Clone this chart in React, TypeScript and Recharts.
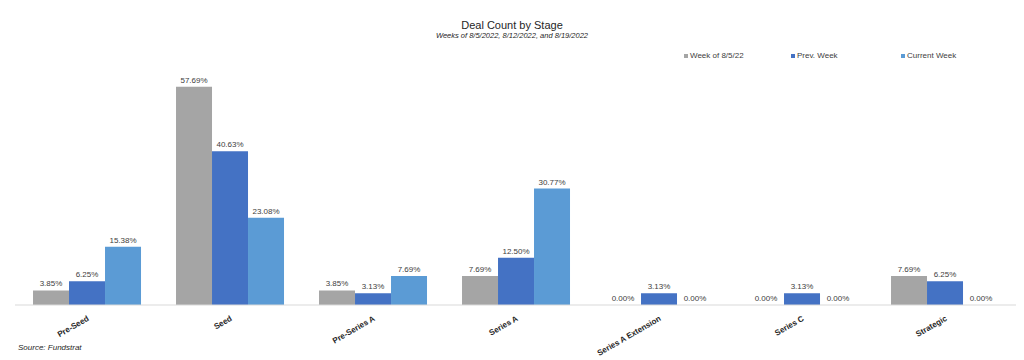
import { BarChart, Bar, XAxis, YAxis, LabelList } from 'recharts';

const stages = ['Pre-Seed', 'Seed', 'Pre-Series A', 'Series A', 'Series A Extension', 'Series C', 'Strategic'];
const weekOf85 = [3.85, 57.69, 3.85, 7.69, 0, 0, 7.69];
const prevWeek = [6.25, 40.63, 3.13, 12.5, 3.13, 3.13, 6.25];
const currentWeek = [15.38, 23.08, 7.69, 30.77, 0, 0, 0];

const seriesNames = ['Week of 8/5/22', 'Prev. Week', 'Current Week'];
const seriesColors = ['#A5A5A5', '#4472C4', '#5B9BD5'];

const data = stages.map((stage, i) => ({
  stage,
  w1: weekOf85[i],
  w2: prevWeek[i],
  w3: currentWeek[i],
}));

const font = '"Liberation Sans", Arial, sans-serif';

const StageTick = (props: any) => {
  const { x, y, payload } = props;
  return (
    <g transform={`translate(${x + 3},${y + 7})`}>
      <text
        x={0}
        y={0}
        textAnchor="end"
        transform="rotate(-30)"
        fontSize={8}
        fontWeight="bold"
        fill="#262626"
        fontFamily={font}
      >
        {payload.value}
      </text>
    </g>
  );
};

const ValueLabel = (props: any) => {
  const { x, y, width, height, value } = props;
  const top = Math.min(y, y + height);
  return (
    <text x={x + width / 2} y={top - 4} textAnchor="middle" fontSize={8} fill="#404040" fontFamily={font}>
      {`${Number(value).toFixed(2)}%`}
    </text>
  );
};

const App = () => {
  return (
    <div style={{ position: 'absolute', left: 0, top: 0, width: 1024, height: 360, background: '#fff', fontFamily: font }}>
      <div style={{ position: 'absolute', top: 19, width: 1024, textAlign: 'center', fontSize: 11, color: '#262626' }}>
        Deal Count by Stage
      </div>
      <div style={{ position: 'absolute', top: 31, width: 1024, textAlign: 'center', fontSize: 7.5, fontStyle: 'italic', color: '#262626' }}>
        Weeks of 8/5/2022, 8/12/2022, and 8/19/2022
      </div>
      <div style={{ position: 'absolute', top: 51, left: 684, display: 'flex', fontSize: 8, color: '#404040' }}>
        {seriesNames.map((name, i) => (
          <div key={name} style={{ width: i === 1 ? 110 : 107, display: 'flex', alignItems: 'center' }}>
            <span style={{ display: 'inline-block', width: 4, height: 4, background: seriesColors[i], marginRight: 2 }} />
            {name}
          </div>
        ))}
      </div>
      <BarChart
        width={1024}
        height={360}
        data={data}
        margin={{ top: 78, right: 8, bottom: 25, left: 15 }}
        barGap={0}
        barCategoryGap="12.6%"
      >
        <XAxis
          dataKey="stage"
          height={30}
          axisLine={{ stroke: '#D9D9D9' }}
          tickLine={false}
          tick={<StageTick />}
          interval={0}
        />
        <YAxis hide domain={[0, 60]} />
        <Bar dataKey="w1" name={seriesNames[0]} fill={seriesColors[0]} minPointSize={0.01} isAnimationActive={false}>
          <LabelList dataKey="w1" content={<ValueLabel />} />
        </Bar>
        <Bar dataKey="w2" name={seriesNames[1]} fill={seriesColors[1]} minPointSize={0.01} isAnimationActive={false}>
          <LabelList dataKey="w2" content={<ValueLabel />} />
        </Bar>
        <Bar dataKey="w3" name={seriesNames[2]} fill={seriesColors[2]} minPointSize={0.01} isAnimationActive={false}>
          <LabelList dataKey="w3" content={<ValueLabel />} />
        </Bar>
      </BarChart>
      <div style={{ position: 'absolute', left: 18, top: 343, fontSize: 8, fontStyle: 'italic', color: '#262626' }}>
        Source: Fundstrat
      </div>
    </div>
  );
};

export default App;
